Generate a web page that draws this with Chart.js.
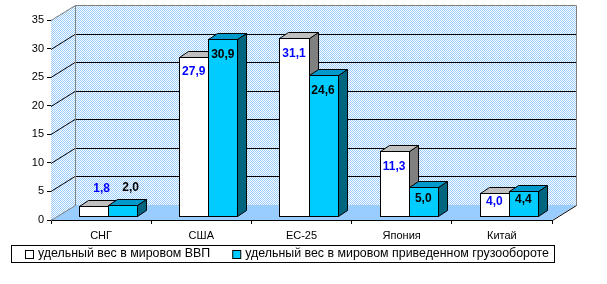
<!DOCTYPE html>
<html>
<head>
<meta charset="utf-8">
<script src="https://cdn.jsdelivr.net/npm/chart.js@4.4.1/dist/chart.umd.min.js"></script>
<style>
html,body{margin:0;padding:0;background:#fff;}
canvas{display:block;}
</style>
</head>
<body>
<canvas id="c" width="607" height="284"></canvas>
<script>
// ---- data ----
const categories = ['СНГ', 'США', 'ЕС-25', 'Япония', 'Китай'];
const gdpShare = [1.8, 27.9, 31.1, 11.3, 4.0];
const freightShare = [2.0, 30.9, 24.6, 5.0, 4.4];
const seriesNames = ['удельный вес в мировом ВВП', 'удельный вес в мировом приведенном грузообороте'];
const yMin = 0, yMax = 35, yStep = 5;

// ---- styles ----
const FONT = '"Liberation Sans", Arial, sans-serif';
const WALL_DX = 24, WALL_DY = 15;     // depth of the 3D box
const BAR_OX = 7, BAR_OY = -4;        // bar front-face offset inside the box
const BAR_DX = 9, BAR_DY = 6;         // bar depth
const seriesStyle = [
  {front: '#ffffff', top: '#c0c0c0', side: '#808080', label: '#0000ff'},
  {front: '#00ccff', top: '#0099cc', side: '#006680', label: '#000000'}
];

function makePattern(ctx) {
  const p = document.createElement('canvas');
  p.width = 2; p.height = 2;
  const c = p.getContext('2d');
  c.fillStyle = '#ffffff'; c.fillRect(0, 0, 2, 2);
  c.fillStyle = '#99ccff'; c.fillRect(0, 0, 1, 1); c.fillRect(1, 1, 1, 1);
  return ctx.createPattern(p, 'repeat');
}

function fmt(v) { return v.toFixed(1).replace('.', ','); }

const box3d = {
  id: 'box3d',
  beforeDatasetsDraw(chart) {
    const ctx = chart.ctx;
    const ys = chart.scales.y;
    const a = chart.chartArea;
    const L = a.left, R = a.right;
    const y0 = Math.round(ys.getPixelForValue(yMin));
    const yT = Math.round(ys.getPixelForValue(yMax));
    const pat = makePattern(ctx);
    ctx.save();
    // back wall
    ctx.fillStyle = pat;
    ctx.fillRect(L + WALL_DX, yT - WALL_DY, R - L, y0 - yT);
    // left wall
    ctx.beginPath();
    ctx.moveTo(L, yT); ctx.lineTo(L + WALL_DX, yT - WALL_DY);
    ctx.lineTo(L + WALL_DX, y0 - WALL_DY); ctx.lineTo(L, y0); ctx.closePath();
    ctx.fill();
    // floor
    ctx.fillStyle = '#99ccff';
    ctx.beginPath();
    ctx.moveTo(L, y0); ctx.lineTo(R, y0);
    ctx.lineTo(R + WALL_DX, y0 - WALL_DY); ctx.lineTo(L + WALL_DX, y0 - WALL_DY); ctx.closePath();
    ctx.fill();
    // gridlines on walls
    ctx.lineWidth = 1;
    for (let v = yMin + yStep; v < yMax; v += yStep) {
      const y = Math.round(ys.getPixelForValue(v));
      ctx.strokeStyle = '#000000';
      ctx.beginPath();
      ctx.moveTo(L, y + 0.5); ctx.lineTo(L + WALL_DX, y - WALL_DY + 0.5);
      ctx.lineTo(R + WALL_DX, y - WALL_DY + 0.5);
      ctx.stroke();
    }
    // wall borders (grey)
    ctx.strokeStyle = '#808080';
    ctx.beginPath();
    ctx.moveTo(L, yT + 0.5); ctx.lineTo(L + WALL_DX + 0.5, yT - WALL_DY + 0.5);
    ctx.lineTo(R + WALL_DX + 0.5, yT - WALL_DY + 0.5);
    ctx.lineTo(R + WALL_DX + 0.5, y0 - WALL_DY + 0.5);
    ctx.moveTo(L + WALL_DX + 0.5, yT - WALL_DY + 0.5);
    ctx.lineTo(L + WALL_DX + 0.5, y0 - WALL_DY + 0.5);
    ctx.moveTo(L, y0 + 0.5); ctx.lineTo(L + WALL_DX + 0.5, y0 - WALL_DY + 0.5);
    ctx.stroke();
    ctx.strokeStyle = '#000000';
    ctx.beginPath();
    ctx.moveTo(R + 0.5, y0 + 0.5); ctx.lineTo(R + WALL_DX + 0.5, y0 - WALL_DY + 0.5);
    ctx.stroke();

    // bars, drawn category by category, series by series
    const metas = chart.data.datasets.map((d, i) => chart.getDatasetMeta(i));
    const n = chart.data.labels.length;
    for (let k = 0; k < n; k++) {
      metas.forEach((meta, si) => {
        const el = meta.data[k];
        const st = seriesStyle[si];
        const x1 = Math.round(el.x - el.width / 2 + BAR_OX) + 0.5;
        const x2 = Math.round(el.x + el.width / 2 + BAR_OX) + 0.5;
        const yt = Math.round(el.y + BAR_OY) + 0.5;
        const yb = Math.round(el.base + BAR_OY) + 0.5;
        ctx.strokeStyle = '#000000';
        ctx.lineWidth = 1;
        // side
        ctx.fillStyle = st.side;
        ctx.beginPath();
        ctx.moveTo(x2, yt); ctx.lineTo(x2 + BAR_DX, yt - BAR_DY);
        ctx.lineTo(x2 + BAR_DX, yb - BAR_DY); ctx.lineTo(x2, yb); ctx.closePath();
        ctx.fill(); ctx.stroke();
        // top
        ctx.fillStyle = st.top;
        ctx.beginPath();
        ctx.moveTo(x1, yt); ctx.lineTo(x1 + BAR_DX, yt - BAR_DY);
        ctx.lineTo(x2 + BAR_DX, yt - BAR_DY); ctx.lineTo(x2, yt); ctx.closePath();
        ctx.fill(); ctx.stroke();
        // front
        ctx.fillStyle = st.front;
        ctx.fillRect(x1, yt, x2 - x1, yb - yt);
        ctx.strokeRect(x1, yt, x2 - x1, yb - yt);
      });
    }
    // data labels
    ctx.font = 'bold 12px ' + FONT;
    ctx.textAlign = 'center';
    ctx.textBaseline = 'middle';
    metas.forEach((meta, si) => {
      const vals = chart.data.datasets[si].data;
      meta.data.forEach((el, k) => {
        const top = el.y + BAR_OY, bot = el.base + BAR_OY;
        const cx = el.x + BAR_OX;
        let lx, ly;
        if (bot - top > 18) { lx = cx; ly = Math.min(top + 15, (top + bot) / 2 - 3); }
        else { lx = cx + 8; ly = top - 17; }
        ctx.fillStyle = seriesStyle[si].label;
        ctx.fillText(fmt(vals[k]), lx, ly);
      });
    });
    ctx.restore();
    return false;
  },
  afterDraw(chart) {
    // legend with frame
    const ctx = chart.ctx;
    ctx.save();
    ctx.font = '12.4px ' + FONT;
    ctx.textBaseline = 'middle';
    ctx.textAlign = 'left';
    const bx = 11, by = 245, bh = 17;
    const cy = by + bh / 2 + 0.5;
    let x = bx + 14;
    const items = chart.data.datasets.map((d, i) => ({text: d.label, color: seriesStyle[i].front}));
    const pos = [];
    items.forEach((it, i) => {
      pos.push(x);
      x += 8 + 5 + ctx.measureText(it.text).width + 22;
    });
    const bw = x - 22 + 5 - bx;
    ctx.fillStyle = '#ffffff';
    ctx.fillRect(bx + 0.5, by + 0.5, bw, bh);
    ctx.strokeStyle = '#000000';
    ctx.lineWidth = 1;
    ctx.strokeRect(bx + 0.5, by + 0.5, bw, bh);
    items.forEach((it, i) => {
      const sx = pos[i];
      ctx.fillStyle = it.color;
      ctx.fillRect(sx + 0.5, Math.round(cy - 4) + 0.5, 8, 8);
      ctx.strokeRect(sx + 0.5, Math.round(cy - 4) + 0.5, 8, 8);
      ctx.fillStyle = '#000000';
      ctx.fillText(it.text, sx + 13, cy);
    });
    ctx.restore();
  }
};

new Chart(document.getElementById('c'), {
  type: 'bar',
  data: {
    labels: categories,
    datasets: [
      {label: seriesNames[0], data: gdpShare, backgroundColor: seriesStyle[0].front},
      {label: seriesNames[1], data: freightShare, backgroundColor: seriesStyle[1].front}
    ]
  },
  options: {
    responsive: false,
    animation: false,
    events: [],
    categoryPercentage: 0.58,
    barPercentage: 1.0,
    layout: {padding: {left: 0, top: 20, right: 55, bottom: 0}},
    plugins: {legend: {display: false}, tooltip: {enabled: false}, title: {display: false}},
    scales: {
      x: {
        offset: true,
        grid: {display: true, drawOnChartArea: false, drawTicks: true, tickLength: 4, color: '#000000', offset: true},
        border: {display: true, color: '#000000'},
        ticks: {color: '#000000', font: {size: 11, family: FONT}, padding: 5, maxRotation: 0},
        afterFit(s) { s.height = 64; }
      },
      y: {
        min: yMin, max: yMax,
        grid: {display: true, drawOnChartArea: false, drawTicks: true, tickLength: 4, color: '#000000'},
        border: {display: true, color: '#000000'},
        ticks: {stepSize: yStep, color: '#000000', font: {size: 11, family: FONT}, padding: 3},
        afterFit(s) { s.width = 51; }
      }
    }
  },
  plugins: [box3d]
});
</script>
</body>
</html>
